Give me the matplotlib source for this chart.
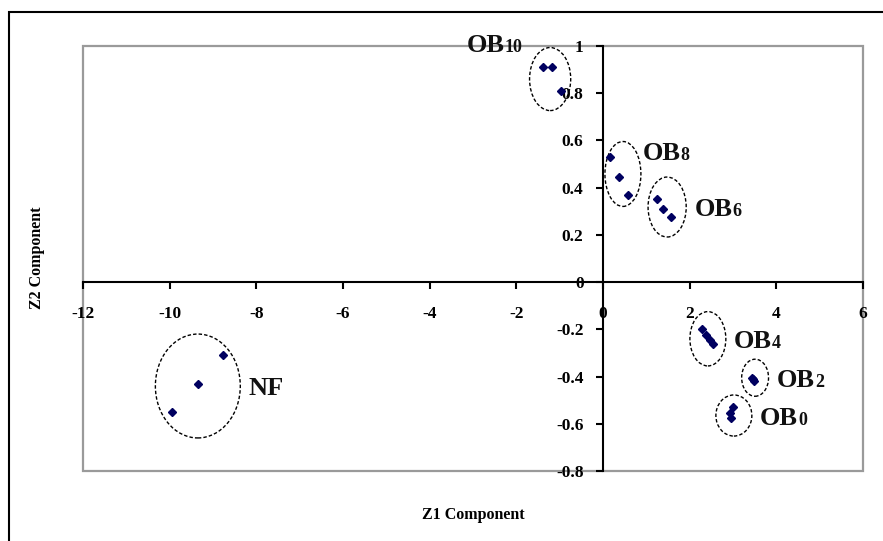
import numpy as np
import matplotlib.pyplot as plt
from matplotlib.patches import Ellipse, Rectangle
from matplotlib.offsetbox import TextArea, HPacker, AnnotationBbox

plt.rcParams['font.family'] = ['Liberation Serif', 'DejaVu Serif']
plt.rcParams['font.weight'] = 'bold'

# scores
z1 = [-1.38, -1.18, -0.97,
      0.16, 0.37, 0.58,
      1.25, 1.38, 1.57,
      2.28, 2.38, 2.47, 2.54,
      3.44, 3.46, 3.48,
      3.00, 2.93, 2.95,
      -8.77, -9.35, -9.95]
z2 = [0.91, 0.91, 0.81,
      0.53, 0.445, 0.37,
      0.35, 0.31, 0.275,
      -0.20, -0.225, -0.245, -0.26,
      -0.405, -0.41, -0.42,
      -0.53, -0.555, -0.576,
      -0.31, -0.43, -0.55]

groups = ['OB', 'OB', 'OB', 'OB', 'OB', 'OB', 'NF']
subs = ['10', '8', '6', '4', '2', '0', '']
# ellipses drawn round each group: centre x, centre y, width, height
ell_x = [-1.22, 0.46, 1.48, 2.42, 3.51, 3.02, -9.35]
ell_y = [0.86, 0.458, 0.318, -0.24, -0.405, -0.565, -0.44]
ell_w = [0.95, 0.83, 0.88, 0.83, 0.62, 0.83, 1.96]
ell_h = [0.267, 0.275, 0.254, 0.23, 0.157, 0.174, 0.44]

xticks = [-12, -10, -8, -6, -4, -2, 0, 2, 4, 6]
yticks = [-0.8, -0.6, -0.4, -0.2, 0, 0.2, 0.4, 0.6, 0.8, 1]
ylabels = ['-0.8', '-0.6', '-0.4', '-0.2', '0', '0.2', '0.4', '0.6', '0.8', '1']

fig = plt.figure(figsize=(8.83, 5.41), dpi=100)
ax = fig.add_axes([83/883, 1-471/541, 780/883, 425/541])

ax.plot(z1, z2, 'D', color='#000060', markersize=4, zorder=5, clip_on=False)

for i in range(len(groups)):
    e = Ellipse((ell_x[i], ell_y[i]), ell_w[i], ell_h[i], fill=False,
                edgecolor='black', lw=1, linestyle=(0, (2.5, 1.5)), zorder=4)
    ax.add_patch(e)

    parts = [TextArea(groups[i], textprops=dict(fontsize=19, fontweight='bold', color='#111111'))]
    if subs[i]:
        parts.append(TextArea(subs[i], textprops=dict(fontsize=13, fontweight='bold', color='#111111')))
    box = HPacker(children=parts, align='baseline', pad=0, sep=0)
    if subs[i] == '10':
        xy = (ell_x[i] - ell_w[i]/2, ell_y[i])
        ab = AnnotationBbox(box, xy, xybox=(-5, 24.5), boxcoords='offset points',
                            box_alignment=(1, 0.5), frameon=False, annotation_clip=False)
    elif subs[i] == '8':
        xy = (ell_x[i] + ell_w[i]/2, ell_y[i])
        ab = AnnotationBbox(box, xy, xybox=(1, 14.5), boxcoords='offset points',
                            box_alignment=(0, 0.5), frameon=False, annotation_clip=False)
    else:
        xy = (ell_x[i] + ell_w[i]/2, ell_y[i])
        ab = AnnotationBbox(box, xy, xybox=(6, -2), boxcoords='offset points',
                            box_alignment=(0, 0.5), frameon=False, annotation_clip=False)
    ax.add_artist(ab)

ax.set_xlim(-12, 6)
ax.set_ylim(-0.8, 1)

ax.spines['left'].set_position(('data', 0))
ax.spines['bottom'].set_position(('data', 0))
ax.spines['top'].set_visible(False)
ax.spines['right'].set_visible(False)
for s in ['left', 'bottom']:
    ax.spines[s].set_linewidth(1.5)
    ax.spines[s].set_color('black')

ax.add_patch(Rectangle((0, 0), 1, 1, transform=ax.transAxes, fill=False,
                       edgecolor='#9a9a9a', lw=1.6, clip_on=False, zorder=1))

ax.set_xticks(xticks)
ax.set_xticklabels([str(t) for t in xticks])
ax.set_yticks(yticks)
ax.set_yticklabels(ylabels)
ax.tick_params(axis='x', direction='out', length=5, width=1.5, pad=12.5, labelsize=12.5)
ax.tick_params(axis='y', direction='out', length=5, width=1.5, pad=9, labelsize=12.5)

fig.text(473/883, 1-515/541, 'Z1 Component', ha='center', va='center',
         fontsize=11.5, fontweight='bold')
fig.text(37/883, 1-258/541, 'Z2 Component', ha='center', va='center',
         rotation=90, fontsize=11.5, fontweight='bold')

# outer chart border (left and top edges visible)
fig.add_artist(Rectangle((9/883, -0.05), 1.2, 1-12/541+0.05, transform=fig.transFigure,
                         fill=False, edgecolor='black', lw=1.5))

fig.savefig('out.png', dpi=100)
